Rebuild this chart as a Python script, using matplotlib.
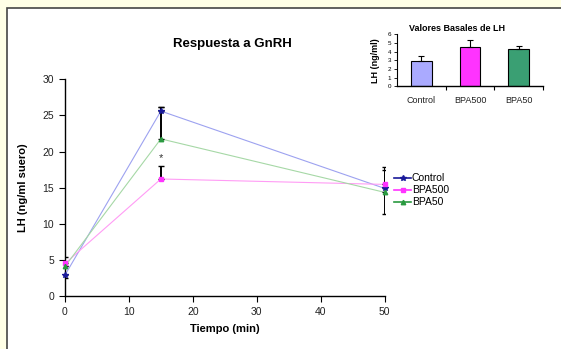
import matplotlib
matplotlib.use("Agg")
import matplotlib.pyplot as plt
from matplotlib.lines import Line2D
from matplotlib.patches import Rectangle

plt.rcParams['font.family'] = ['Liberation Sans', 'DejaVu Sans']

# ---- data ----
tiempo = [0, 15, 50]
series_names = ["Control", "BPA500", "BPA50"]
control = [2.9, 25.6, 14.9]
bpa500 = [4.5, 16.2, 15.45]
bpa50 = [4.1, 21.75, 14.35]
# asymmetric errors (lower, upper)
control_err_lo = [0.45, 0.0, 0.0]
control_err_hi = [0.0, 0.5, 2.5]
bpa500_err_lo = [0.0, 0.0, 0.0]
bpa500_err_hi = [0.9, 1.85, 2.45]
bpa50_err_lo = [0.0, 0.0, 2.95]
bpa50_err_hi = [0.0, 4.35, 0.0]
asterisk_pos = (15, 19.1)

inset_cats = ["Control", "BPA500", "BPA50"]
inset_vals = [2.97, 4.55, 4.3]
inset_err = [0.55, 0.78, 0.32]

line_colors = ["#9da2f0", "#ff9cf5", "#a6d8a6"]
marker_colors = ["#1a1a9a", "#ff33ff", "#2a9a40"]
markers = ["*", "s", "^"]
bar_colors = ["#aaaaff", "#ff33ff", "#3a9f73"]

W, H = 561, 349
fig = plt.figure(figsize=(W / 100, H / 100), dpi=100)
fig.patch.set_facecolor("#ffffe6")
panel = Rectangle((7 / W, -0.01), 1.0, 1 - 8 / H + 0.01, transform=fig.transFigure,
                  facecolor="white", edgecolor="#454545", linewidth=1.2, zorder=-10)
fig.patches.append(panel)

def fx(px):
    return px / W

def fy(py):
    return 1 - py / H

# ---- main axes ----
ax = fig.add_axes([fx(65), fy(296), fx(384.6) - fx(65), fy(79.3) - fy(296)])
ax.set_facecolor("none")
data = [control, bpa500, bpa50]
errs = [(control_err_lo, control_err_hi), (bpa500_err_lo, bpa500_err_hi), (bpa50_err_lo, bpa50_err_hi)]
for vals, lc in zip(data, line_colors):
    ax.plot(tiempo, vals, color=lc, lw=0.8, zorder=2)
for vals, (lo, hi) in zip(data, errs):
    ax.errorbar(tiempo, vals, yerr=[lo, hi], fmt="none", ecolor="black", elinewidth=1.4,
                capsize=2.5, capthick=1.0, zorder=3)
for vals, mc, mk in zip(data, marker_colors, markers):
    ms = 4 if mk == "*" else 3.2
    ax.plot(tiempo, vals, ls="none", marker=mk, color=mc, ms=ms, zorder=4, clip_on=False)

ax.text(asterisk_pos[0], asterisk_pos[1], "*", ha="center", va="center", fontsize=8, color="#333333")

ax.set_xlim(0, 50)
ax.set_ylim(0, 30)
ax.set_xticks([0, 10, 20, 30, 40, 50])
ax.set_yticks([0, 5, 10, 15, 20, 25, 30])
for s in ["top", "right"]:
    ax.spines[s].set_visible(False)
for s in ["left", "bottom"]:
    ax.spines[s].set_linewidth(1.0)
ax.tick_params(axis="both", labelsize=7.5, length=4, width=0.8, direction="out", pad=4,
               labelcolor="#222222")
ax.set_xlabel("Tiempo (min)", fontsize=8, fontweight="bold", labelpad=5)
ax.set_ylabel("LH (ng/ml suero)", fontsize=8, fontweight="bold", labelpad=10)
fig.text(fx(232), fy(44), "Respuesta a GnRH", ha="center", va="center",
         fontsize=9.5, fontweight="bold")

handles = [Line2D([0], [0], color=mc, marker=mk, ms=(4 if mk == "*" else 3.2), lw=1.2)
           for mc, mk in zip(marker_colors, markers)]
fig.legend(handles, series_names, loc="upper left", bbox_to_anchor=(fx(389), fy(168)),
           frameon=False, fontsize=7.5, handlelength=1.6, handletextpad=0.1,
           labelspacing=0.2, borderpad=0)

# ---- inset ----
ax2 = fig.add_axes([fx(397), fy(86.3), fx(543) - fx(397), fy(34.3) - fy(86.3)])
ax2.set_facecolor("none")
xs = list(range(len(inset_cats)))
ax2.bar(xs, inset_vals, width=0.42, color=bar_colors, edgecolor="black", linewidth=0.8, zorder=2)
ax2.errorbar(xs, inset_vals, yerr=[[0] * 3, inset_err], fmt="none", ecolor="black",
             elinewidth=0.8, capsize=2.5, capthick=0.8, zorder=3)
ax2.set_xlim(-0.5, 2.5)
ax2.set_ylim(0, 6)
ax2.set_yticks(range(0, 7))
ax2.set_xticks([0.5, 1.5, 2.5])
ax2.set_xticklabels([])
ax2.set_xticks(xs, minor=True)
ax2.set_xticklabels(inset_cats, minor=True)
ax2.tick_params(axis="x", which="minor", length=0, labelsize=6.5, pad=7, labelcolor="#222222")
ax2.tick_params(axis="x", which="major", length=3, width=0.8)
ax2.tick_params(axis="y", labelsize=4.5, length=2, width=0.6, pad=2)
for s in ["top", "right"]:
    ax2.spines[s].set_visible(False)
ax2.spines["left"].set_linewidth(0.8)
ax2.spines["bottom"].set_linewidth(1.0)
ax2.set_ylabel("LH (ng/ml)", fontsize=6.5, fontweight="bold", labelpad=6)
fig.text(fx(457), fy(28.5), "Valores Basales de LH", ha="center", va="center",
         fontsize=6.5, fontweight="bold")

fig.savefig("out.png", dpi=100, facecolor=fig.get_facecolor())
